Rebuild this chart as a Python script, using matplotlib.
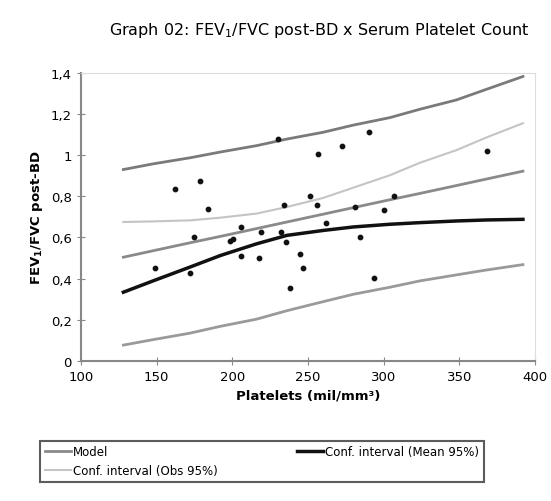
import matplotlib.pyplot as plt
from matplotlib.ticker import FuncFormatter

# scatter data (platelets, FEV1/FVC post-BD)
plt_x = [148.8, 162, 172.3, 174.5, 178.7, 184.2, 198.7, 200.5, 205.5, 205.5,
         217.9, 218.7, 230.2, 232.1, 234.3, 235.4, 237.9, 244.5, 246.5, 251.1,
         255.7, 256.6, 262.1, 272.4, 281.2, 284.5, 290.2, 293.5, 300.1, 306.7, 368.0]
fev_y = [0.452, 0.833, 0.426, 0.602, 0.873, 0.740, 0.585, 0.594, 0.651, 0.512,
         0.501, 0.628, 1.077, 0.628, 0.758, 0.577, 0.355, 0.519, 0.452, 0.800,
         0.760, 1.005, 0.670, 1.046, 0.750, 0.602, 1.112, 0.403, 0.732, 0.799, 1.021]

# curves read at these x positions
cx = [128, 148, 172, 192, 216, 236, 260, 280, 304, 324, 348, 368, 392]
upper = [0.930, 0.958, 0.987, 1.015, 1.046, 1.078, 1.111, 1.146, 1.182, 1.223, 1.268, 1.320, 1.382]
lower = [0.077, 0.104, 0.135, 0.168, 0.203, 0.244, 0.288, 0.324, 0.358, 0.389, 0.418, 0.442, 0.468]
model = [0.504, 0.536, 0.574, 0.605, 0.643, 0.675, 0.713, 0.745, 0.783, 0.814, 0.852, 0.884, 0.922]
obs_ci = [0.675, 0.678, 0.683, 0.696, 0.716, 0.748, 0.792, 0.842, 0.902, 0.963, 1.024, 1.086, 1.155]
mean_ci = [0.334, 0.390, 0.456, 0.512, 0.569, 0.610, 0.634, 0.651, 0.664, 0.672, 0.680, 0.685, 0.688]

fig = plt.figure(figsize=(5.51, 5.02), dpi=100)
ax = fig.add_axes([0.147, 0.279, 0.824, 0.574])

ax.plot(cx, upper, color='#7a7a7a', lw=2)
ax.plot(cx, lower, color='#9a9a9a', lw=2)
l_model, = ax.plot(cx, model, color='#8a8a8a', lw=2, label='Model')
l_obs, = ax.plot(cx, obs_ci, color='#c4c4c4', lw=1.5, label='Conf. interval (Obs 95%)')
l_mean, = ax.plot(cx, mean_ci, color='#111111', lw=2.5, label='Conf. interval (Mean 95%)')
ax.scatter(plt_x, fev_y, s=10, color='#111111', zorder=5)

ax.set_xlim(100, 400)
ax.set_ylim(0, 1.4)
ax.set_xticks([100, 150, 200, 250, 300, 350, 400])
ax.set_yticks([0, 0.2, 0.4, 0.6, 0.8, 1.0, 1.2, 1.4])
ax.yaxis.set_major_formatter(FuncFormatter(lambda v, p: ('%g' % round(v, 1)).replace('.', ',')))
ax.tick_params(direction='inout', length=6, color='#888888', labelsize=9.5)
for s in ['left', 'bottom']:
    ax.spines[s].set_color('#888888')
    ax.spines[s].set_linewidth(1.5)
for s in ['top', 'right']:
    ax.spines[s].set_color('#dddddd')

ax.set_xlabel('Platelets (mil/mm³)', fontsize=9.5, fontweight='bold')
ax.set_ylabel('FEV$_\\mathbf{1}$/FVC post-BD', fontsize=9.5, fontweight='bold')
fig.text(0.58, 0.94, 'Graph 02: FEV$_1$/FVC post-BD x Serum Platelet Count',
         ha='center', va='center', fontsize=11.5)

leg = fig.legend(handles=[l_model, l_obs, l_mean], ncol=2, loc='upper left',
                 bbox_to_anchor=(0.073, 0.12, 0.805, 0.0), mode='expand',
                 fancybox=False, fontsize=8.5, handlelength=2.2, handletextpad=0.2,
                 borderaxespad=0)
leg.get_frame().set_edgecolor('#333333')
leg.get_frame().set_linewidth(1.5)

fig.savefig('out.png')
